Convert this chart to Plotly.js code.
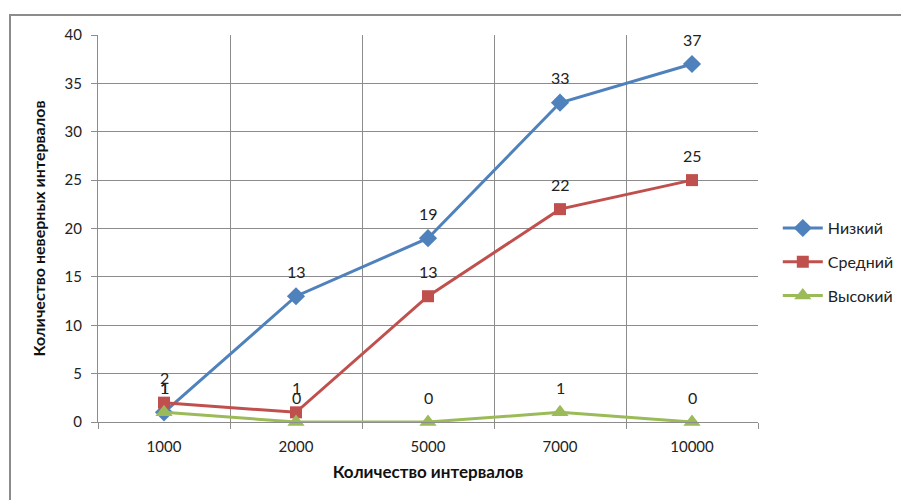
<!DOCTYPE html>
<html>
<head>
<meta charset="utf-8">
<script src="https://cdn.plot.ly/plotly-3.0.1.min.js"></script>
<style>
html,body{margin:0;padding:0;background:#fff;}
#wrap{position:relative;width:901px;height:500px;overflow:hidden;}
#chart{width:901px;height:500px;}
#frame{position:absolute;left:9px;top:14px;width:910px;height:510px;border-left:2px solid #8c8c8c;border-top:2px solid #8c8c8c;pointer-events:none;}
</style>
</head>
<body>
<div id="wrap"><div id="chart"></div><div id="frame"></div></div>
<script>
const categories = ["1000", "2000", "5000", "7000", "10000"];
const seriesNames = ["Низкий", "Средний", "Высокий"];
const lowValues = [1, 13, 19, 33, 37];
const midValues = [2, 1, 13, 22, 25];
const highValues = [1, 0, 0, 1, 0];
const yTicks = [0, 5, 10, 15, 20, 25, 30, 35, 40];

const colors = ["#4F81BD", "#C0504D", "#9BBB59"];
const symbols = ["diamond", "square", "triangle-up"];
const sizes = [14, 12, 15];
const allValues = [lowValues, midValues, highValues];
const FONT = "Lato, 'Open Sans', sans-serif";

const traces = allValues.map((vals, i) => ({
  type: "scatter",
  mode: "lines+markers",
  name: seriesNames[i],
  x: categories,
  y: vals,
  legendgroup: "g" + i,
  line: {color: colors[i], width: 3},
  marker: {color: colors[i], symbol: symbols[i], size: sizes[i]},
  cliponaxis: false
}));

const annotations = [];
allValues.forEach((vals) => {
  vals.forEach((v, j) => {
    annotations.push({
      x: j, y: v, xref: "x", yref: "y",
      text: String(v), showarrow: false, yshift: 25,
      font: {family: FONT, size: 16, color: "#222"}
    });
  });
});

const layout = {
  width: 901, height: 500,
  margin: {l: 98, r: 143, t: 35, b: 78, autoexpand: false},
  paper_bgcolor: "#fff", plot_bgcolor: "#fff",
  font: {family: FONT, size: 15, color: "#222"},
  showlegend: true,
  legend: {
    x: 1.03, xanchor: "left", y: 0.545, yanchor: "top",
    font: {size: 16, color: "#222"},
    itemwidth: 40,
    tracegroupgap: 10, bgcolor: "rgba(0,0,0,0)"
  },
  xaxis: {
    type: "category",
    categoryorder: "array", categoryarray: categories,
    range: [-0.5, 4.5],
    tickson: "boundaries",
    showgrid: true, gridcolor: "#8c8c8c", gridwidth: 1,
    showline: true, linecolor: "#8c8c8c", linewidth: 1,
    ticks: "outside", ticklen: 6, tickcolor: "#8c8c8c",
    ticklabelstandoff: 11,
    tickfont: {size: 15, color: "#222"},
    zeroline: false,
    title: {text: "<b>Количество интервалов</b>", font: {size: 17, color: "#111"}, standoff: 12}
  },
  yaxis: {
    range: [0, 40],
    tickvals: yTicks,
    showgrid: true, gridcolor: "#8c8c8c", gridwidth: 1,
    showline: true, linecolor: "#8c8c8c", linewidth: 1,
    ticks: "outside", ticklen: 6, tickcolor: "#8c8c8c",
    ticklabelstandoff: 6,
    tickfont: {size: 15, color: "#222"},
    zeroline: false,
    title: {text: "<b>Количество неверных интервалов</b>", font: {size: 16, color: "#111"}, standoff: 14}
  },
  annotations: annotations
};

Plotly.newPlot("chart", traces, layout, {displayModeBar: false, staticPlot: true});
</script>
</body>
</html>
